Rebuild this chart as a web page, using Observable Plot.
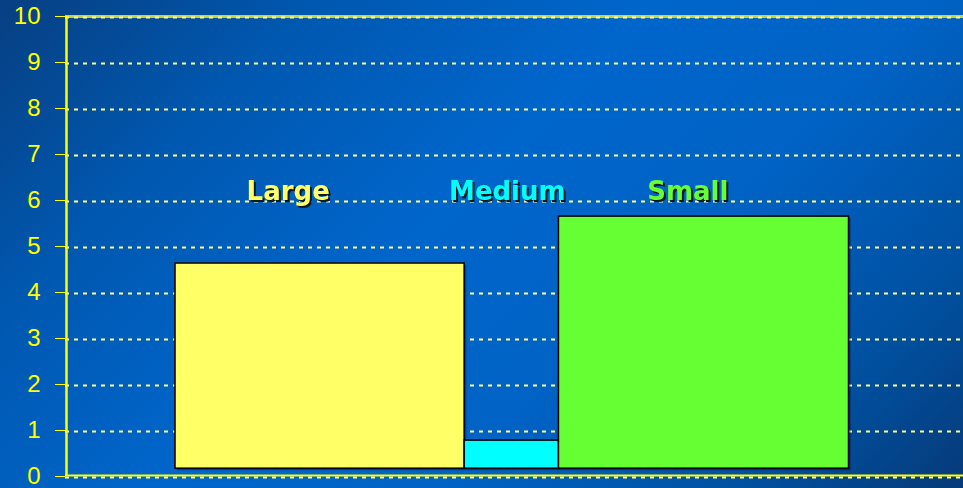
<!DOCTYPE html>
<html><head><meta charset="utf-8">
<script src="https://cdn.jsdelivr.net/npm/d3@7"></script>
<script src="https://cdn.jsdelivr.net/npm/@observablehq/plot@0.6"></script>
<style>
html,body{margin:0;padding:0;background:#0060c0;}
#chart{width:963px;height:488px;overflow:hidden;
  background:linear-gradient(135deg,#073f82 0%,#0058b0 22%,#0066cc 45%,#0062c4 65%,#0050a0 85%,#073a78 100%);}
svg{display:block}
g[aria-label="text"] text{filter:drop-shadow(2px 2px 0 #101820);}
</style></head><body><div id="chart"></div>
<script>
const categories = ["Large", "Medium", "Small"];
const values = [4.63, 0.78, 5.65];
const widths = [32.2, 10.5, 32.3];
const startOffset = 12.25;
const baseValue = 0.17;
const labelX = [24.8, 49.2, 69.3];
const labelY = 6.2;
const colors = ["#ffff66", "#00ffff", "#66ff33"];
const yTicks = [0, 1, 2, 3, 4, 5, 6, 7, 8, 9, 10];

let acc = startOffset;
const data = categories.map((c, i) => {
  const x1 = acc; acc += widths[i];
  return {category: c, value: values[i], x1, x2: acc, lx: labelX[i], color: colors[i]};
});

const chart = Plot.plot({
  width: 963, height: 488,
  marginLeft: 65, marginRight: 0, marginTop: 16, marginBottom: 12,
  style: {background: "transparent", color: "#ffff00", fontFamily: "Liberation Sans, Arial, sans-serif"},
  x: {domain: [0, 100], axis: null},
  y: {domain: [0, 10], ticks: yTicks, axis: null, label: null},
  marks: [
    Plot.ruleY([10], {stroke: "#c4d44a", strokeWidth: 3}),
    Plot.ruleY(yTicks, {stroke: "#ffff99", strokeWidth: 1.8, strokeDasharray: "4,5", dy: 1}),
    Plot.ruleY([0], {stroke: "#ffff00", strokeWidth: 2, dy: -1}),
    Plot.rect(data, {x1: "x1", x2: "x2", y1: baseValue, y2: "value", fill: "#000", fillOpacity: 0.35, dx: 2, dy: 2}),
    Plot.rect(data, {x1: "x1", x2: "x2", y1: baseValue, y2: "value", fill: "color", stroke: "#000", strokeWidth: 1.5}),
    Plot.ruleX([0], {stroke: "#ffff00", strokeWidth: 2.5, dx: 1}),
    Plot.axisY({ticks: yTicks, label: null, tickSize: 10, tickPadding: 15, fontSize: 24, color: "#ffff00", stroke: "#ffff00", fill: "#ffff00"}),
    Plot.text(data, {x: "lx", y: labelY, text: "category", fill: "color", fontSize: 26, fontWeight: "bold", fontFamily: "DejaVu Sans, sans-serif"})
  ]
});
document.getElementById("chart").appendChild(chart);
</script>
</body></html>
